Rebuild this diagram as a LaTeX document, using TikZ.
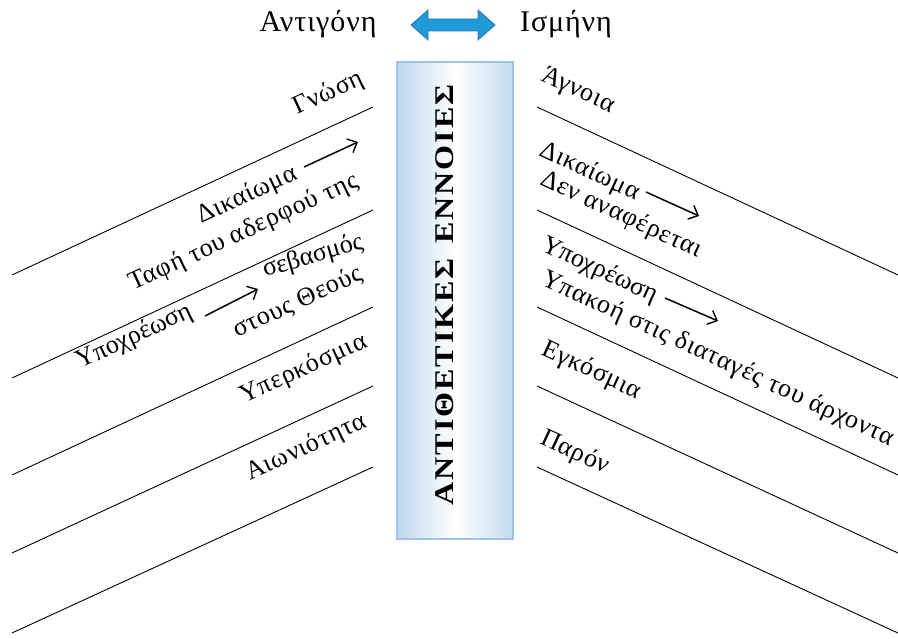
\documentclass[tikz,border=0pt]{standalone}
\usepackage{fontspec}
\setmainfont{Liberation Serif}
\usetikzlibrary{arrows.meta}
\definecolor{rectedge}{HTML}{9DC3E6}
\definecolor{rectblue}{HTML}{BDD7EE}
\definecolor{arrfill}{HTML}{1E9AD6}
\definecolor{arredge}{HTML}{2E75B6}
\begin{document}
\begin{tikzpicture}[x=1pt,y=-1pt,
  sepline/.style={line width=0.9pt},
  lbl/.style={font=\fontsize{26}{31}\selectfont\addfontfeature{LetterSpace=3}, inner sep=0pt},
  tight/.style={font=\fontsize{26}{31}\selectfont},
  ll/.style={lbl, rotate=24.87, anchor=base west},
  rl/.style={lbl, rotate=-24.87, anchor=base west},
  title/.style={font=\fontsize{30}{36}\selectfont\addfontfeature{LetterSpace=3}, inner sep=0pt, anchor=base},
  arr/.style={-{Straight Barb[length=8pt,width=15pt,line width=1.4pt]}, line width=1.5pt},
]
\useasboundingbox (0,0) rectangle (898,639);

% titles
\node[title] (ant) at (318,32) {Αντιγόνη};
\node[title] (ism) at (566,32) {Ισμήνη};
\filldraw[fill=arrfill, draw=arredge, line width=0.8pt]
  (411,25) -- (428,10) -- (428,19) -- (478,19) -- (478,10) -- (495,25)
  -- (478,40) -- (478,31) -- (428,31) -- (428,40) -- cycle;

% central bar
\shade[left color=rectblue, right color=rectblue!90!white, middle color=white]
  (397,62) rectangle (513,539);
\draw[rectedge, line width=2pt] (397,62) rectangle (513,539);
\node[rotate=90, inner sep=0pt,
  font=\fontsize{27}{32}\selectfont\bfseries\addfontfeature{LetterSpace=6}]
  (center) at (445,295) {\scalebox{1.19}[1]{ΑΝΤΙΘΕΤΙΚΕΣ\hspace{12pt}ΕΝΝΟΙΕΣ}};

% left lines
\foreach \a/\b in {275/107, 378/210, 475/307, 553/386, 633/467}
  \draw[sepline] (12,\a) -- (373,\b);
% right lines
\foreach \a/\b in {107/275, 210/378, 307/475, 386/553, 467/633}
  \draw[sepline] (537,\a) -- (898,\b);

% left labels
\node[ll] (gnosi) at (297,115) {Γνώση};
\node[ll] (dik1) at (201,224) {Δικαίωμα};
\coordinate (a1s) at (304,167);
\coordinate (a1e) at (358,142);
\draw[arr] (a1s) -- (a1e);
\node[ll] (tafi) at (133,291) {Ταφή του αδερφού της};
\node[ll, tight] (ypox1) at (80,369) {Υποχρέωση};
\coordinate (a2s) at (205,316);
\coordinate (a2e) at (258,289);
\draw[arr] (a2s) -- (a2e);
\node[lbl, tight, rotate=16, anchor=base west] (sev) at (265,277) {σεβασμός};
\node[ll] (theous) at (237,338) {στους Θεούς};
\node[ll] (yperk) at (244,404) {Υπερκόσμια};
\node[ll] (aion) at (250,481) {Αιωνιότητα};

% right labels
\node[rl] (agnoia) at (540,80) {Άγνοια};
\node[rl] (dik2) at (538,155) {Δικαίωμα};
\node[rl] (denan) at (539,184) {Δεν αναφέρεται};
\coordinate (a3s) at (646,192);
\coordinate (a3e) at (699,216);
\draw[arr] (a3s) -- (a3e);
\node[rl, tight] (ypox2) at (540,250) {Υποχρέωση};
\node[rl] (ypak) at (540,284) {Υπακοή στις διαταγές του άρχοντα};
\coordinate (a4s) at (665,298);
\coordinate (a4e) at (718,321);
\draw[arr] (a4s) -- (a4e);
\node[rl] (egk) at (540,354) {Εγκόσμια};
\node[rl] (paron) at (539,443) {Παρόν};
\end{tikzpicture}
\end{document}
